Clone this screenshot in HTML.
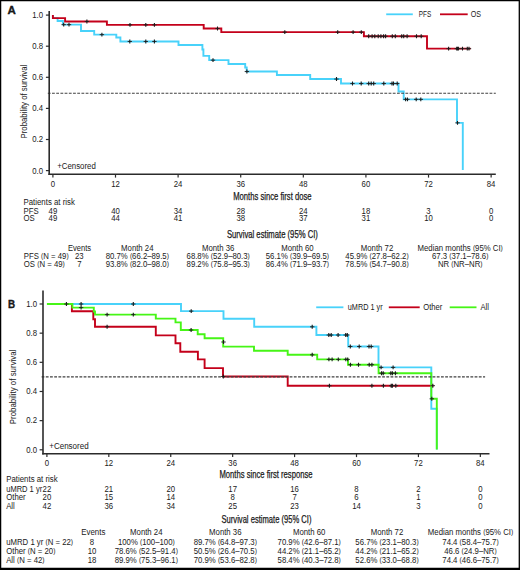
<!DOCTYPE html>
<html><head><meta charset="utf-8"><title>Kaplan-Meier survival</title>
<style>
html,body{margin:0;padding:0;background:#fff;}
body{width:520px;height:570px;overflow:hidden;}
svg{display:block;}
svg text{font-family:"Liberation Sans",sans-serif;fill:#202020;}
</style></head><body>
<svg width="520" height="570" viewBox="0 0 520 570" font-size="8.5">
<rect x="0" y="0" width="520" height="570" fill="#fff"/>
<text x="7.5" y="14.3" font-size="11" textLength="8.3" lengthAdjust="spacingAndGlyphs" font-weight="bold" fill="#000" stroke="#000" stroke-width="0.3">A</text>
<line x1="386.2" y1="14.3" x2="412.8" y2="14.3" stroke="#48d2fa" stroke-width="1.8"/>
<text x="418.8" y="16.5" textLength="12.4" lengthAdjust="spacingAndGlyphs">PFS</text>
<line x1="440" y1="14.3" x2="467.7" y2="14.3" stroke="#c4001a" stroke-width="1.8"/>
<text x="470.7" y="16.5" textLength="10.3" lengthAdjust="spacingAndGlyphs">OS</text>
<path d="M52.9 15.1H52.9V18.15H57.6V21.05H62.9V24.65H81V30.95H94.2V34.65H116.3V37.55H120.4V41.45H178.5V45.05H202.4V49.55H203.4V55.85H209.2V60.15H228.5V63.95H245.2V67.55H246.7V71.55H276.9V75.05H310.2V79.05H341V83.55H398.5V91.55H403.7V99.35H457V122.85H462.8V169.9" fill="none" stroke="#48d2fa" stroke-width="1.9" stroke-linejoin="miter" stroke-linecap="butt"/>
<path d="M52.9 15.1H52.9V18.15H65.1V21.45H106.9V24.85H203.7V28.55H221.3V32.15H363.9V36.25H427V48.65H470.6" fill="none" stroke="#c4001a" stroke-width="1.9" stroke-linejoin="miter" stroke-linecap="butt"/>
<line x1="47.8" y1="93.3" x2="495.8" y2="93.3" stroke="#404040" stroke-width="1.1" stroke-dasharray="2.8 1.407"/>
<path d="M61.5 24.65h4.4M66.8 24.65h4.4M99.7 34.65h4.4M127.6 41.45h4.4M143.6 41.45h4.4M152.2 41.45h4.4M210.8 60.15h4.4M244.7 71.55h4.4M334.3 79.05h4.4M350.3 83.55h4.4M359 83.55h4.4M366.5 83.55h4.4M369 83.55h4.4M371.5 83.55h4.4M381.6 83.55h4.4M389.8 83.55h4.4M391.3 83.55h4.4M395 83.55h4.4M403.4 99.35h4.4M405.3 99.35h4.4M414 99.35h4.4M418.6 99.35h4.4M455.3 122.85h4.4M84.7 21.45h4.4M127.8 24.85h4.4M143.6 24.85h4.4M152.2 24.85h4.4M215.3 28.55h4.4M282.6 32.15h4.4M335.5 32.15h4.4M350.9 32.15h4.4M359.1 32.15h4.4M366.5 36.25h4.4M369.9 36.25h4.4M372.6 36.25h4.4M376 36.25h4.4M378.7 36.25h4.4M381.4 36.25h4.4M383.4 36.25h4.4M390.1 36.25h4.4M393.1 36.25h4.4M399.5 36.25h4.4M401.5 36.25h4.4M404.9 36.25h4.4M414.3 36.25h4.4M419 36.25h4.4M446.4 48.65h4.4M454.5 48.65h4.4M455.3 48.65h4.4M456.2 48.65h4.4M460.3 48.65h4.4M465.1 48.65h4.4M466.8 48.65h4.4" stroke="#222" stroke-width="0.95" fill="none"/>
<path d="M63.7 22.7v3.9M69 22.7v3.9M101.9 32.7v3.9M129.8 39.5v3.9M145.8 39.5v3.9M154.4 39.5v3.9M213 58.2v3.9M246.9 69.6v3.9M336.5 77.1v3.9M352.5 81.6v3.9M361.2 81.6v3.9M368.7 81.6v3.9M371.2 81.6v3.9M373.7 81.6v3.9M383.8 81.6v3.9M392 81.6v3.9M393.5 81.6v3.9M397.2 81.6v3.9M405.6 97.4v3.9M407.5 97.4v3.9M416.2 97.4v3.9M420.8 97.4v3.9M457.5 120.9v3.9M86.9 19.5v3.9M130 22.9v3.9M145.8 22.9v3.9M154.4 22.9v3.9M217.5 26.6v3.9M284.8 30.2v3.9M337.7 30.2v3.9M353.1 30.2v3.9M361.3 30.2v3.9M368.7 34.3v3.9M372.1 34.3v3.9M374.8 34.3v3.9M378.2 34.3v3.9M380.9 34.3v3.9M383.6 34.3v3.9M385.6 34.3v3.9M392.3 34.3v3.9M395.3 34.3v3.9M401.7 34.3v3.9M403.7 34.3v3.9M407.1 34.3v3.9M416.5 34.3v3.9M421.2 34.3v3.9M448.6 46.7v3.9M456.7 46.7v3.9M457.5 46.7v3.9M458.4 46.7v3.9M462.5 46.7v3.9M467.3 46.7v3.9M469 46.7v3.9" stroke="#1a1a1a" stroke-width="1.1" fill="none"/>
<line x1="49.2" y1="11" x2="49.2" y2="174.9" stroke="#2b2b2b" stroke-width="1.6"/>
<line x1="48.4" y1="174.2" x2="495.8" y2="174.2" stroke="#2b2b2b" stroke-width="1.6"/>
<line x1="45.9" y1="15.1" x2="49.2" y2="15.1" stroke="#2b2b2b" stroke-width="1.2"/>
<text x="43" y="18" text-anchor="end" textLength="10.81" lengthAdjust="spacingAndGlyphs">1.0</text>
<line x1="45.9" y1="46.2" x2="49.2" y2="46.2" stroke="#2b2b2b" stroke-width="1.2"/>
<text x="43" y="49.1" text-anchor="end" textLength="10.81" lengthAdjust="spacingAndGlyphs">0.8</text>
<line x1="45.9" y1="77.3" x2="49.2" y2="77.3" stroke="#2b2b2b" stroke-width="1.2"/>
<text x="43" y="80.2" text-anchor="end" textLength="10.81" lengthAdjust="spacingAndGlyphs">0.6</text>
<line x1="45.9" y1="108.4" x2="49.2" y2="108.4" stroke="#2b2b2b" stroke-width="1.2"/>
<text x="43" y="111.3" text-anchor="end" textLength="10.81" lengthAdjust="spacingAndGlyphs">0.4</text>
<line x1="45.9" y1="139.5" x2="49.2" y2="139.5" stroke="#2b2b2b" stroke-width="1.2"/>
<text x="43" y="142.4" text-anchor="end" textLength="10.81" lengthAdjust="spacingAndGlyphs">0.2</text>
<line x1="45.9" y1="170.6" x2="49.2" y2="170.6" stroke="#2b2b2b" stroke-width="1.2"/>
<text x="43" y="173.5" text-anchor="end" textLength="10.81" lengthAdjust="spacingAndGlyphs">0.0</text>
<line x1="52.9" y1="174.2" x2="52.9" y2="177.6" stroke="#2b2b2b" stroke-width="1.2"/>
<text x="52.9" y="186.6" text-anchor="middle" textLength="4.33" lengthAdjust="spacingAndGlyphs">0</text>
<line x1="115.5" y1="174.2" x2="115.5" y2="177.6" stroke="#2b2b2b" stroke-width="1.2"/>
<text x="115.5" y="186.6" text-anchor="middle" textLength="8.65" lengthAdjust="spacingAndGlyphs">12</text>
<line x1="178.11" y1="174.2" x2="178.11" y2="177.6" stroke="#2b2b2b" stroke-width="1.2"/>
<text x="178.11" y="186.6" text-anchor="middle" textLength="8.65" lengthAdjust="spacingAndGlyphs">24</text>
<line x1="240.71" y1="174.2" x2="240.71" y2="177.6" stroke="#2b2b2b" stroke-width="1.2"/>
<text x="240.71" y="186.6" text-anchor="middle" textLength="8.65" lengthAdjust="spacingAndGlyphs">36</text>
<line x1="303.32" y1="174.2" x2="303.32" y2="177.6" stroke="#2b2b2b" stroke-width="1.2"/>
<text x="303.32" y="186.6" text-anchor="middle" textLength="8.65" lengthAdjust="spacingAndGlyphs">48</text>
<line x1="365.92" y1="174.2" x2="365.92" y2="177.6" stroke="#2b2b2b" stroke-width="1.2"/>
<text x="365.92" y="186.6" text-anchor="middle" textLength="8.65" lengthAdjust="spacingAndGlyphs">60</text>
<line x1="428.52" y1="174.2" x2="428.52" y2="177.6" stroke="#2b2b2b" stroke-width="1.2"/>
<text x="428.52" y="186.6" text-anchor="middle" textLength="8.65" lengthAdjust="spacingAndGlyphs">72</text>
<line x1="491.13" y1="174.2" x2="491.13" y2="177.6" stroke="#2b2b2b" stroke-width="1.2"/>
<text x="491.13" y="186.6" text-anchor="middle" textLength="8.65" lengthAdjust="spacingAndGlyphs">84</text>
<text x="0" y="0" text-anchor="middle" font-size="9" textLength="73.8" lengthAdjust="spacingAndGlyphs" transform="translate(27.1 101.6) rotate(-90)">Probability of survival</text>
<text x="57.2" y="168.9" textLength="38.6" lengthAdjust="spacingAndGlyphs">+Censored</text>
<text x="272.4" y="200.2" text-anchor="middle" font-size="10.4" textLength="78.4" lengthAdjust="spacingAndGlyphs" stroke="#1a1a1a" stroke-width="0.25">Months since first dose</text>
<text x="23.5" y="204.7" textLength="51.4" lengthAdjust="spacingAndGlyphs">Patients at risk</text>
<text x="23.5" y="213.9" textLength="15.13" lengthAdjust="spacingAndGlyphs">PFS</text>
<text x="23.5" y="221.1" textLength="11.24" lengthAdjust="spacingAndGlyphs">OS</text>
<text x="52.9" y="213.9" text-anchor="middle" textLength="8.65" lengthAdjust="spacingAndGlyphs">49</text>
<text x="52.9" y="221.1" text-anchor="middle" textLength="8.65" lengthAdjust="spacingAndGlyphs">49</text>
<text x="115.5" y="213.9" text-anchor="middle" textLength="8.65" lengthAdjust="spacingAndGlyphs">40</text>
<text x="115.5" y="221.1" text-anchor="middle" textLength="8.65" lengthAdjust="spacingAndGlyphs">44</text>
<text x="178.11" y="213.9" text-anchor="middle" textLength="8.65" lengthAdjust="spacingAndGlyphs">34</text>
<text x="178.11" y="221.1" text-anchor="middle" textLength="8.65" lengthAdjust="spacingAndGlyphs">41</text>
<text x="240.71" y="213.9" text-anchor="middle" textLength="8.65" lengthAdjust="spacingAndGlyphs">28</text>
<text x="240.71" y="221.1" text-anchor="middle" textLength="8.65" lengthAdjust="spacingAndGlyphs">38</text>
<text x="303.32" y="213.9" text-anchor="middle" textLength="8.65" lengthAdjust="spacingAndGlyphs">24</text>
<text x="303.32" y="221.1" text-anchor="middle" textLength="8.65" lengthAdjust="spacingAndGlyphs">37</text>
<text x="365.92" y="213.9" text-anchor="middle" textLength="8.65" lengthAdjust="spacingAndGlyphs">18</text>
<text x="365.92" y="221.1" text-anchor="middle" textLength="8.65" lengthAdjust="spacingAndGlyphs">31</text>
<text x="428.52" y="213.9" text-anchor="middle" textLength="4.33" lengthAdjust="spacingAndGlyphs">3</text>
<text x="428.52" y="221.1" text-anchor="middle" textLength="8.65" lengthAdjust="spacingAndGlyphs">10</text>
<text x="491.13" y="213.9" text-anchor="middle" textLength="4.33" lengthAdjust="spacingAndGlyphs">0</text>
<text x="491.13" y="221.1" text-anchor="middle" textLength="4.33" lengthAdjust="spacingAndGlyphs">0</text>
<text x="272.4" y="237.7" text-anchor="middle" font-size="10.2" textLength="91" lengthAdjust="spacingAndGlyphs" stroke="#1a1a1a" stroke-width="0.25">Survival estimate (95% CI)</text>
<text x="79.5" y="251.1" text-anchor="middle" textLength="23.1" lengthAdjust="spacingAndGlyphs">Events</text>
<text x="137.3" y="251.1" text-anchor="middle" textLength="32.43" lengthAdjust="spacingAndGlyphs">Month 24</text>
<text x="218.2" y="251.1" text-anchor="middle" textLength="32.43" lengthAdjust="spacingAndGlyphs">Month 36</text>
<text x="297.4" y="251.1" text-anchor="middle" textLength="32.43" lengthAdjust="spacingAndGlyphs">Month 60</text>
<text x="377" y="251.1" text-anchor="middle" textLength="32.43" lengthAdjust="spacingAndGlyphs">Month 72</text>
<text x="460.2" y="251.1" text-anchor="middle" textLength="85.29" lengthAdjust="spacingAndGlyphs">Median months <tspan font-size="7.3" baseline-shift="0.75">(</tspan>95% CI<tspan font-size="7.3" baseline-shift="0.75">)</tspan></text>
<text x="23.8" y="258.8" textLength="44.87" lengthAdjust="spacingAndGlyphs">PFS <tspan font-size="7.3" baseline-shift="0.75">(</tspan>N = 49<tspan font-size="7.3" baseline-shift="0.75">)</tspan></text>
<text x="79.3" y="258.8" text-anchor="middle" textLength="8.65" lengthAdjust="spacingAndGlyphs">23</text>
<text x="137.3" y="258.8" text-anchor="middle" textLength="63.26" lengthAdjust="spacingAndGlyphs">80.7% <tspan font-size="7.3" baseline-shift="0.75">(</tspan>66.2–89.5<tspan font-size="7.3" baseline-shift="0.75">)</tspan></text>
<text x="218.2" y="258.8" text-anchor="middle" textLength="63.26" lengthAdjust="spacingAndGlyphs">68.8% <tspan font-size="7.3" baseline-shift="0.75">(</tspan>52.9–80.3<tspan font-size="7.3" baseline-shift="0.75">)</tspan></text>
<text x="297.4" y="258.8" text-anchor="middle" textLength="63.26" lengthAdjust="spacingAndGlyphs">56.1% <tspan font-size="7.3" baseline-shift="0.75">(</tspan>39.9–69.5<tspan font-size="7.3" baseline-shift="0.75">)</tspan></text>
<text x="377" y="258.8" text-anchor="middle" textLength="63.26" lengthAdjust="spacingAndGlyphs">45.9% <tspan font-size="7.3" baseline-shift="0.75">(</tspan>27.8–62.2<tspan font-size="7.3" baseline-shift="0.75">)</tspan></text>
<text x="460.2" y="258.8" text-anchor="middle" textLength="56.35" lengthAdjust="spacingAndGlyphs">67.3 <tspan font-size="7.3" baseline-shift="0.75">(</tspan>37.1–78.6<tspan font-size="7.3" baseline-shift="0.75">)</tspan></text>
<text x="23.8" y="266.5" textLength="40.98" lengthAdjust="spacingAndGlyphs">OS <tspan font-size="7.3" baseline-shift="0.75">(</tspan>N = 49<tspan font-size="7.3" baseline-shift="0.75">)</tspan></text>
<text x="79.3" y="266.5" text-anchor="middle" textLength="4.33" lengthAdjust="spacingAndGlyphs">7</text>
<text x="137.3" y="266.5" text-anchor="middle" textLength="63.26" lengthAdjust="spacingAndGlyphs">93.8% <tspan font-size="7.3" baseline-shift="0.75">(</tspan>82.0–98.0<tspan font-size="7.3" baseline-shift="0.75">)</tspan></text>
<text x="218.2" y="266.5" text-anchor="middle" textLength="63.26" lengthAdjust="spacingAndGlyphs">89.2% <tspan font-size="7.3" baseline-shift="0.75">(</tspan>75.8–95.3<tspan font-size="7.3" baseline-shift="0.75">)</tspan></text>
<text x="297.4" y="266.5" text-anchor="middle" textLength="63.26" lengthAdjust="spacingAndGlyphs">86.4% <tspan font-size="7.3" baseline-shift="0.75">(</tspan>71.9–93.7<tspan font-size="7.3" baseline-shift="0.75">)</tspan></text>
<text x="377" y="266.5" text-anchor="middle" textLength="63.26" lengthAdjust="spacingAndGlyphs">78.5% <tspan font-size="7.3" baseline-shift="0.75">(</tspan>54.7–90.8<tspan font-size="7.3" baseline-shift="0.75">)</tspan></text>
<text x="460.2" y="266.5" text-anchor="middle" textLength="44.64" lengthAdjust="spacingAndGlyphs">NR <tspan font-size="7.3" baseline-shift="0.75">(</tspan>NR–NR<tspan font-size="7.3" baseline-shift="0.75">)</tspan></text>
<text x="8.1" y="307.6" font-size="10" textLength="7.1" lengthAdjust="spacingAndGlyphs" font-weight="bold" fill="#000" stroke="#000" stroke-width="0.3">B</text>
<line x1="316.2" y1="307.3" x2="343.4" y2="307.3" stroke="#48d2fa" stroke-width="1.8"/>
<text x="347.8" y="310.1" textLength="34.8" lengthAdjust="spacingAndGlyphs">uMRD 1 yr</text>
<line x1="388.8" y1="307.3" x2="419.7" y2="307.3" stroke="#c4001a" stroke-width="1.8"/>
<text x="423.2" y="310.1" textLength="19.1" lengthAdjust="spacingAndGlyphs">Other</text>
<line x1="449.7" y1="307.3" x2="476.5" y2="307.3" stroke="#46f516" stroke-width="1.8"/>
<text x="480.4" y="310.1" textLength="8.5" lengthAdjust="spacingAndGlyphs">All</text>
<path d="M72 304H181V311.1H223.5V318.8H254.2V326.8H316.4V335H348.2V346.5H378.5V367.4H431.3V408.8H436.8V449.5" fill="none" stroke="#48d2fa" stroke-width="1.9" stroke-linejoin="miter" stroke-linecap="butt"/>
<path d="M71.9 304H71.9V311.2H93.3V319.3H95V326.7H155.8V335.4H175.5V343.2H180.3V351.7H197.9V359.4H204.6V368.1H223V376.5H287.7V385.7H433.5" fill="none" stroke="#c4001a" stroke-width="1.9" stroke-linejoin="miter" stroke-linecap="butt"/>
<path d="M46.9 304H72.4V307.6H93.8V311.5H95V314.6H155.8V318.6H175.5V322.4H180.8V330H197.7V334.3H204.6V338.3H223.2V346.6H254V350.8H287.7V354.8H317.2V359.4H348V364.7H378.6V373.2H431.3V398.8H436.8V449.5" fill="none" stroke="#46f516" stroke-width="1.9" stroke-linejoin="miter" stroke-linecap="butt"/>
<line x1="41.6" y1="376.9" x2="485.1" y2="376.9" stroke="#404040" stroke-width="1.1" stroke-dasharray="2.8 1.404"/>
<path d="M64.2 304h4.4M78.9 304h4.4M131.1 304h4.4M189 311.1h4.4M310 326.8h4.4M326.6 335h4.4M329 335h4.4M335.9 335h4.4M343.5 335h4.4M345.1 335h4.4M348.1 346.5h4.4M357 346.5h4.4M366.8 346.5h4.4M369 346.5h4.4M378.9 367.4h4.4M390.9 367.4h4.4M78.9 307.6h4.4M104.9 314.6h4.4M131.1 314.6h4.4M188.9 330h4.4M221.3 342h4.4M310 354.8h4.4M326.7 359.4h4.4M329.9 359.4h4.4M336.1 359.4h4.4M343.6 359.4h4.4M345.5 359.4h4.4M348.2 364.7h4.4M356.3 364.7h4.4M367 364.7h4.4M369.7 364.7h4.4M379.3 373.2h4.4M381 373.2h4.4M388.6 373.2h4.4M390.2 373.2h4.4M393.2 373.2h4.4M429.6 398.8h4.4M104.9 326.7h4.4M221.1 376.5h4.4M327.2 385.7h4.4M369.7 385.7h4.4M381.2 385.7h4.4M389 385.7h4.4M390.2 385.7h4.4M393.6 385.7h4.4M430.6 385.7h4.4" stroke="#222" stroke-width="0.95" fill="none"/>
<path d="M66.4 302.05v3.9M81.1 302.05v3.9M133.3 302.05v3.9M191.2 309.15v3.9M312.2 324.85v3.9M328.8 333.05v3.9M331.2 333.05v3.9M338.1 333.05v3.9M345.7 333.05v3.9M347.3 333.05v3.9M350.3 344.55v3.9M359.2 344.55v3.9M369 344.55v3.9M371.2 344.55v3.9M381.1 365.45v3.9M393.1 365.45v3.9M81.1 305.65v3.9M107.1 312.65v3.9M133.3 312.65v3.9M191.1 328.05v3.9M223.5 340.05v3.9M312.2 352.85v3.9M328.9 357.45v3.9M332.1 357.45v3.9M338.3 357.45v3.9M345.8 357.45v3.9M347.7 357.45v3.9M350.4 362.75v3.9M358.5 362.75v3.9M369.2 362.75v3.9M371.9 362.75v3.9M381.5 371.25v3.9M383.2 371.25v3.9M390.8 371.25v3.9M392.4 371.25v3.9M395.4 371.25v3.9M431.8 396.85v3.9M107.1 324.75v3.9M223.3 374.55v3.9M329.4 383.75v3.9M371.9 383.75v3.9M383.4 383.75v3.9M391.2 383.75v3.9M392.4 383.75v3.9M395.8 383.75v3.9M432.8 383.75v3.9" stroke="#1a1a1a" stroke-width="1.1" fill="none"/>
<line x1="43" y1="290.4" x2="43" y2="454.6" stroke="#2b2b2b" stroke-width="1.6"/>
<line x1="42.2" y1="453.8" x2="489.5" y2="453.8" stroke="#2b2b2b" stroke-width="1.6"/>
<line x1="39.6" y1="304" x2="43" y2="304" stroke="#2b2b2b" stroke-width="1.2"/>
<text x="37.1" y="306.8" text-anchor="end" textLength="10.81" lengthAdjust="spacingAndGlyphs">1.0</text>
<line x1="39.6" y1="333.16" x2="43" y2="333.16" stroke="#2b2b2b" stroke-width="1.2"/>
<text x="37.1" y="335.96" text-anchor="end" textLength="10.81" lengthAdjust="spacingAndGlyphs">0.8</text>
<line x1="39.6" y1="362.32" x2="43" y2="362.32" stroke="#2b2b2b" stroke-width="1.2"/>
<text x="37.1" y="365.12" text-anchor="end" textLength="10.81" lengthAdjust="spacingAndGlyphs">0.6</text>
<line x1="39.6" y1="391.48" x2="43" y2="391.48" stroke="#2b2b2b" stroke-width="1.2"/>
<text x="37.1" y="394.28" text-anchor="end" textLength="10.81" lengthAdjust="spacingAndGlyphs">0.4</text>
<line x1="39.6" y1="420.64" x2="43" y2="420.64" stroke="#2b2b2b" stroke-width="1.2"/>
<text x="37.1" y="423.44" text-anchor="end" textLength="10.81" lengthAdjust="spacingAndGlyphs">0.2</text>
<line x1="39.6" y1="449.8" x2="43" y2="449.8" stroke="#2b2b2b" stroke-width="1.2"/>
<text x="37.1" y="452.6" text-anchor="end" textLength="10.81" lengthAdjust="spacingAndGlyphs">0.0</text>
<line x1="46.9" y1="453.8" x2="46.9" y2="457.1" stroke="#2b2b2b" stroke-width="1.2"/>
<text x="46.9" y="466" text-anchor="middle" textLength="4.33" lengthAdjust="spacingAndGlyphs">0</text>
<line x1="108.82" y1="453.8" x2="108.82" y2="457.1" stroke="#2b2b2b" stroke-width="1.2"/>
<text x="108.82" y="466" text-anchor="middle" textLength="8.65" lengthAdjust="spacingAndGlyphs">12</text>
<line x1="170.74" y1="453.8" x2="170.74" y2="457.1" stroke="#2b2b2b" stroke-width="1.2"/>
<text x="170.74" y="466" text-anchor="middle" textLength="8.65" lengthAdjust="spacingAndGlyphs">24</text>
<line x1="232.66" y1="453.8" x2="232.66" y2="457.1" stroke="#2b2b2b" stroke-width="1.2"/>
<text x="232.66" y="466" text-anchor="middle" textLength="8.65" lengthAdjust="spacingAndGlyphs">36</text>
<line x1="294.58" y1="453.8" x2="294.58" y2="457.1" stroke="#2b2b2b" stroke-width="1.2"/>
<text x="294.58" y="466" text-anchor="middle" textLength="8.65" lengthAdjust="spacingAndGlyphs">48</text>
<line x1="356.5" y1="453.8" x2="356.5" y2="457.1" stroke="#2b2b2b" stroke-width="1.2"/>
<text x="356.5" y="466" text-anchor="middle" textLength="8.65" lengthAdjust="spacingAndGlyphs">60</text>
<line x1="418.42" y1="453.8" x2="418.42" y2="457.1" stroke="#2b2b2b" stroke-width="1.2"/>
<text x="418.42" y="466" text-anchor="middle" textLength="8.65" lengthAdjust="spacingAndGlyphs">72</text>
<line x1="480.34" y1="453.8" x2="480.34" y2="457.1" stroke="#2b2b2b" stroke-width="1.2"/>
<text x="480.34" y="466" text-anchor="middle" textLength="8.65" lengthAdjust="spacingAndGlyphs">84</text>
<text x="0" y="0" text-anchor="middle" font-size="9" textLength="74.7" lengthAdjust="spacingAndGlyphs" transform="translate(15.6 386.9) rotate(-90)">Probability of survival</text>
<text x="49.2" y="449.2" textLength="39.5" lengthAdjust="spacingAndGlyphs">+Censored</text>
<text x="266" y="477.9" text-anchor="middle" font-size="10.4" textLength="93.1" lengthAdjust="spacingAndGlyphs" stroke="#1a1a1a" stroke-width="0.25">Months since first response</text>
<text x="6.2" y="482.3" textLength="51.5" lengthAdjust="spacingAndGlyphs">Patients at risk</text>
<text x="6.2" y="491.5" textLength="36" lengthAdjust="spacingAndGlyphs">uMRD 1 yr</text>
<text x="46.9" y="491.5" text-anchor="middle" textLength="8.65" lengthAdjust="spacingAndGlyphs">22</text>
<text x="108.82" y="491.5" text-anchor="middle" textLength="8.65" lengthAdjust="spacingAndGlyphs">21</text>
<text x="170.74" y="491.5" text-anchor="middle" textLength="8.65" lengthAdjust="spacingAndGlyphs">20</text>
<text x="232.66" y="491.5" text-anchor="middle" textLength="8.65" lengthAdjust="spacingAndGlyphs">17</text>
<text x="294.58" y="491.5" text-anchor="middle" textLength="8.65" lengthAdjust="spacingAndGlyphs">16</text>
<text x="356.5" y="491.5" text-anchor="middle" textLength="4.33" lengthAdjust="spacingAndGlyphs">8</text>
<text x="418.42" y="491.5" text-anchor="middle" textLength="4.33" lengthAdjust="spacingAndGlyphs">2</text>
<text x="480.34" y="491.5" text-anchor="middle" textLength="4.33" lengthAdjust="spacingAndGlyphs">0</text>
<text x="6.2" y="500" textLength="19.45" lengthAdjust="spacingAndGlyphs">Other</text>
<text x="46.9" y="500" text-anchor="middle" textLength="8.65" lengthAdjust="spacingAndGlyphs">20</text>
<text x="108.82" y="500" text-anchor="middle" textLength="8.65" lengthAdjust="spacingAndGlyphs">15</text>
<text x="170.74" y="500" text-anchor="middle" textLength="8.65" lengthAdjust="spacingAndGlyphs">14</text>
<text x="232.66" y="500" text-anchor="middle" textLength="4.33" lengthAdjust="spacingAndGlyphs">8</text>
<text x="294.58" y="500" text-anchor="middle" textLength="4.33" lengthAdjust="spacingAndGlyphs">7</text>
<text x="356.5" y="500" text-anchor="middle" textLength="4.33" lengthAdjust="spacingAndGlyphs">6</text>
<text x="418.42" y="500" text-anchor="middle" textLength="4.33" lengthAdjust="spacingAndGlyphs">1</text>
<text x="480.34" y="500" text-anchor="middle" textLength="4.33" lengthAdjust="spacingAndGlyphs">0</text>
<text x="6.2" y="508.5" textLength="8.64" lengthAdjust="spacingAndGlyphs">All</text>
<text x="46.9" y="508.5" text-anchor="middle" textLength="8.65" lengthAdjust="spacingAndGlyphs">42</text>
<text x="108.82" y="508.5" text-anchor="middle" textLength="8.65" lengthAdjust="spacingAndGlyphs">36</text>
<text x="170.74" y="508.5" text-anchor="middle" textLength="8.65" lengthAdjust="spacingAndGlyphs">34</text>
<text x="232.66" y="508.5" text-anchor="middle" textLength="8.65" lengthAdjust="spacingAndGlyphs">25</text>
<text x="294.58" y="508.5" text-anchor="middle" textLength="8.65" lengthAdjust="spacingAndGlyphs">23</text>
<text x="356.5" y="508.5" text-anchor="middle" textLength="8.65" lengthAdjust="spacingAndGlyphs">14</text>
<text x="418.42" y="508.5" text-anchor="middle" textLength="4.33" lengthAdjust="spacingAndGlyphs">3</text>
<text x="480.34" y="508.5" text-anchor="middle" textLength="4.33" lengthAdjust="spacingAndGlyphs">0</text>
<text x="266.5" y="522.8" text-anchor="middle" font-size="10.2" textLength="89.9" lengthAdjust="spacingAndGlyphs" stroke="#1a1a1a" stroke-width="0.25">Survival estimate (95% CI)</text>
<text x="93.3" y="535.2" text-anchor="middle" textLength="24.2" lengthAdjust="spacingAndGlyphs">Events</text>
<text x="146.3" y="535.2" text-anchor="middle" textLength="32.43" lengthAdjust="spacingAndGlyphs">Month 24</text>
<text x="225.3" y="535.2" text-anchor="middle" textLength="32.43" lengthAdjust="spacingAndGlyphs">Month 36</text>
<text x="309.2" y="535.2" text-anchor="middle" textLength="32.43" lengthAdjust="spacingAndGlyphs">Month 60</text>
<text x="387" y="535.2" text-anchor="middle" textLength="32.43" lengthAdjust="spacingAndGlyphs">Month 72</text>
<text x="470.5" y="535.2" text-anchor="middle" textLength="85.29" lengthAdjust="spacingAndGlyphs">Median months <tspan font-size="7.3" baseline-shift="0.75">(</tspan>95% CI<tspan font-size="7.3" baseline-shift="0.75">)</tspan></text>
<text x="6.2" y="544.7" textLength="66.9" lengthAdjust="spacingAndGlyphs">uMRD 1 yr <tspan font-size="7.3" baseline-shift="0.75">(</tspan>N = 22<tspan font-size="7.3" baseline-shift="0.75">)</tspan></text>
<text x="92" y="544.7" text-anchor="middle" textLength="4.33" lengthAdjust="spacingAndGlyphs">8</text>
<text x="146.3" y="544.7" text-anchor="middle" textLength="56.78" lengthAdjust="spacingAndGlyphs">100% <tspan font-size="7.3" baseline-shift="0.75">(</tspan>100–100<tspan font-size="7.3" baseline-shift="0.75">)</tspan></text>
<text x="225.3" y="544.7" text-anchor="middle" textLength="63.26" lengthAdjust="spacingAndGlyphs">89.7% <tspan font-size="7.3" baseline-shift="0.75">(</tspan>64.8–97.3<tspan font-size="7.3" baseline-shift="0.75">)</tspan></text>
<text x="309.2" y="544.7" text-anchor="middle" textLength="63.26" lengthAdjust="spacingAndGlyphs">70.9% <tspan font-size="7.3" baseline-shift="0.75">(</tspan>42.6–87.1<tspan font-size="7.3" baseline-shift="0.75">)</tspan></text>
<text x="387" y="544.7" text-anchor="middle" textLength="63.26" lengthAdjust="spacingAndGlyphs">56.7% <tspan font-size="7.3" baseline-shift="0.75">(</tspan>23.1–80.3<tspan font-size="7.3" baseline-shift="0.75">)</tspan></text>
<text x="470.5" y="544.7" text-anchor="middle" textLength="56.35" lengthAdjust="spacingAndGlyphs">74.4 <tspan font-size="7.3" baseline-shift="0.75">(</tspan>58.4–75.7<tspan font-size="7.3" baseline-shift="0.75">)</tspan></text>
<text x="6.2" y="553.7" textLength="49.19" lengthAdjust="spacingAndGlyphs">Other <tspan font-size="7.3" baseline-shift="0.75">(</tspan>N = 20<tspan font-size="7.3" baseline-shift="0.75">)</tspan></text>
<text x="92" y="553.7" text-anchor="middle" textLength="8.65" lengthAdjust="spacingAndGlyphs">10</text>
<text x="146.3" y="553.7" text-anchor="middle" textLength="63.26" lengthAdjust="spacingAndGlyphs">78.6% <tspan font-size="7.3" baseline-shift="0.75">(</tspan>52.5–91.4<tspan font-size="7.3" baseline-shift="0.75">)</tspan></text>
<text x="225.3" y="553.7" text-anchor="middle" textLength="63.26" lengthAdjust="spacingAndGlyphs">50.5% <tspan font-size="7.3" baseline-shift="0.75">(</tspan>26.4–70.5<tspan font-size="7.3" baseline-shift="0.75">)</tspan></text>
<text x="309.2" y="553.7" text-anchor="middle" textLength="63.26" lengthAdjust="spacingAndGlyphs">44.2% <tspan font-size="7.3" baseline-shift="0.75">(</tspan>21.1–65.2<tspan font-size="7.3" baseline-shift="0.75">)</tspan></text>
<text x="387" y="553.7" text-anchor="middle" textLength="63.26" lengthAdjust="spacingAndGlyphs">44.2% <tspan font-size="7.3" baseline-shift="0.75">(</tspan>21.1–65.2<tspan font-size="7.3" baseline-shift="0.75">)</tspan></text>
<text x="470.5" y="553.7" text-anchor="middle" textLength="52.44" lengthAdjust="spacingAndGlyphs">46.6 <tspan font-size="7.3" baseline-shift="0.75">(</tspan>24.9–NR<tspan font-size="7.3" baseline-shift="0.75">)</tspan></text>
<text x="6.2" y="562.7" textLength="38.38" lengthAdjust="spacingAndGlyphs">All <tspan font-size="7.3" baseline-shift="0.75">(</tspan>N = 42<tspan font-size="7.3" baseline-shift="0.75">)</tspan></text>
<text x="92" y="562.7" text-anchor="middle" textLength="8.65" lengthAdjust="spacingAndGlyphs">18</text>
<text x="146.3" y="562.7" text-anchor="middle" textLength="63.26" lengthAdjust="spacingAndGlyphs">89.9% <tspan font-size="7.3" baseline-shift="0.75">(</tspan>75.3–96.1<tspan font-size="7.3" baseline-shift="0.75">)</tspan></text>
<text x="225.3" y="562.7" text-anchor="middle" textLength="63.26" lengthAdjust="spacingAndGlyphs">70.9% <tspan font-size="7.3" baseline-shift="0.75">(</tspan>53.6–82.8<tspan font-size="7.3" baseline-shift="0.75">)</tspan></text>
<text x="309.2" y="562.7" text-anchor="middle" textLength="63.26" lengthAdjust="spacingAndGlyphs">58.4% <tspan font-size="7.3" baseline-shift="0.75">(</tspan>40.3–72.8<tspan font-size="7.3" baseline-shift="0.75">)</tspan></text>
<text x="387" y="562.7" text-anchor="middle" textLength="63.26" lengthAdjust="spacingAndGlyphs">52.6% <tspan font-size="7.3" baseline-shift="0.75">(</tspan>33.0–68.8<tspan font-size="7.3" baseline-shift="0.75">)</tspan></text>
<text x="470.5" y="562.7" text-anchor="middle" textLength="56.35" lengthAdjust="spacingAndGlyphs">74.4 <tspan font-size="7.3" baseline-shift="0.75">(</tspan>46.6–75.7<tspan font-size="7.3" baseline-shift="0.75">)</tspan></text>
<path d="M0.6 0.6H519.3V569H0.6Z" fill="none" stroke="#000" stroke-width="1.3"/>
<line x1="0" y1="568.9" x2="520" y2="568.9" stroke="#000" stroke-width="2.2"/>
</svg>
</body></html>
